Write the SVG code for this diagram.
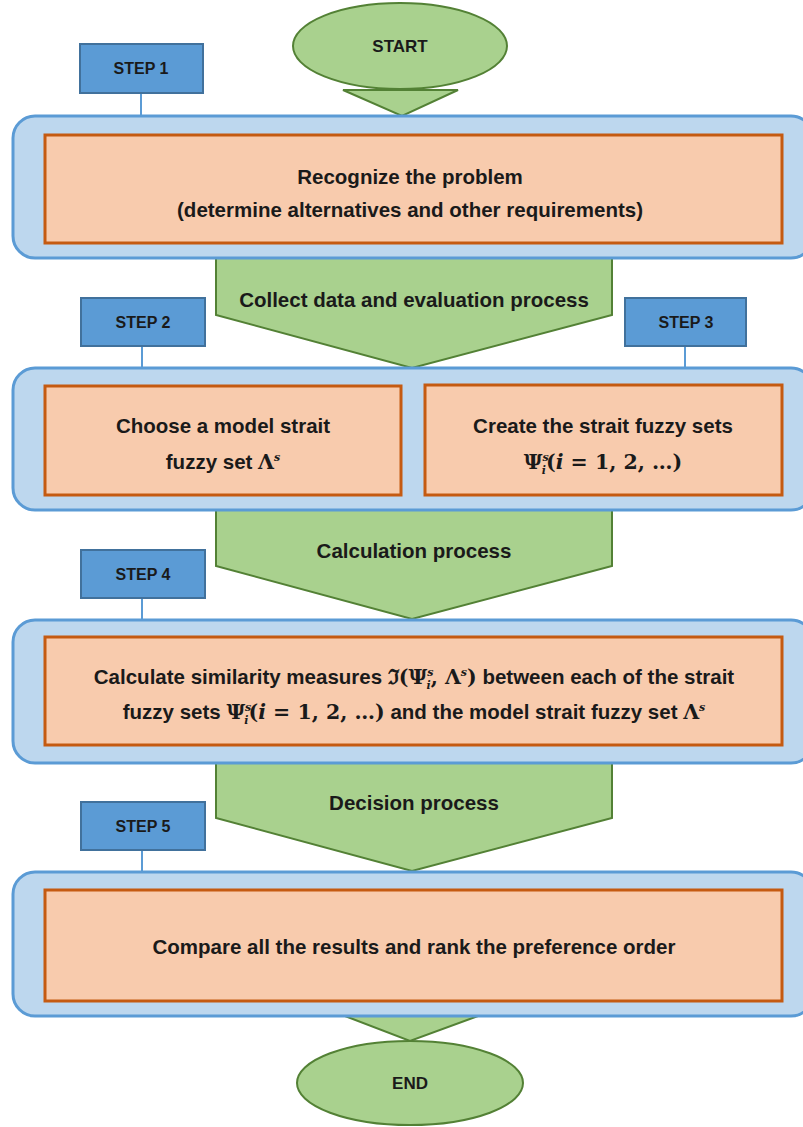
<svg xmlns="http://www.w3.org/2000/svg" width="803" height="1127" viewBox="0 0 803 1127">
<defs>
<style>
.arrow{fill:#A9D18E;stroke:#538135;stroke-width:2}
.term{fill:#A9D18E;stroke:#538135;stroke-width:2}
.step{fill:#5B9BD5;stroke:#41719C;stroke-width:2}
.cont{fill:#BDD7EE;stroke:#5B9BD5;stroke-width:3}
.task{fill:#F8CBAD;stroke:#C55A11;stroke-width:3}
.link{stroke:#5B9BD5;stroke-width:2;fill:none}
text{font-family:"Liberation Sans",Arial,sans-serif;font-weight:bold;fill:#1a1a1a;text-anchor:middle}
.t{font-size:20.5px}
.e{font-size:17px}
.s{font-size:16px}
.m{font-family:"DejaVu Serif","Liberation Serif",serif;font-weight:bold}
.mi{font-family:"DejaVu Serif","Liberation Serif",serif;font-weight:bold;font-style:italic}
.sup{font-size:11px}
</style>
</defs>
<rect width="803" height="1127" fill="#ffffff"/>

<g id="connectors">
<polygon class="arrow" points="343,90 458,90 402,116"/>
<polygon class="arrow" points="216,258 612,258 612,315 412,368 216,315"/>
<polygon class="arrow" points="216,510 612,510 612,566 412,619 216,566"/>
<polygon class="arrow" points="216,763 612,763 612,818 412,871 216,818"/>
<polygon class="arrow" points="345,1016 478,1016 410,1041"/>
<line class="link" x1="141" y1="94" x2="141" y2="116"/>
<line class="link" x1="142" y1="347" x2="142" y2="368"/>
<line class="link" x1="685" y1="347" x2="685" y2="368"/>
<line class="link" x1="142" y1="599" x2="142" y2="620"/>
<line class="link" x1="142" y1="851" x2="142" y2="872"/>
</g>

<g id="start">
<ellipse class="term" cx="400" cy="46" rx="107" ry="43"/>
<text class="e" x="400" y="52">START</text>
</g>

<g id="step1"><rect class="step" x="80" y="44" width="123" height="49"/><text class="s" x="141" y="74">STEP 1</text></g>
<g id="step2"><rect class="step" x="81" y="298" width="124" height="48"/><text class="s" x="143" y="328">STEP 2</text></g>
<g id="step3"><rect class="step" x="625" y="298" width="121" height="48"/><text class="s" x="686" y="328">STEP 3</text></g>
<g id="step4"><rect class="step" x="81" y="550" width="124" height="48"/><text class="s" x="143" y="580">STEP 4</text></g>
<g id="step5"><rect class="step" x="81" y="802" width="124" height="48"/><text class="s" x="143" y="832">STEP 5</text></g>

<g id="container1">
<rect class="cont" x="13" y="116" width="800" height="142" rx="22"/>
<rect class="task" x="45" y="135" width="737" height="108"/>
<text class="t" x="410" y="184">Recognize the problem</text>
<text class="t" x="410" y="217">(determine alternatives and other requirements)</text>
</g>

<g id="container2">
<rect class="cont" x="13" y="368" width="800" height="142" rx="22"/>
<rect class="task" x="45" y="386" width="356" height="109"/>
<text class="t" x="223" y="433">Choose a model strait</text>
<text class="t" x="223" y="469">fuzzy set <tspan class="m">Λ</tspan><tspan class="mi sup" dy="-8">s</tspan></text>
<rect class="task" x="425" y="385" width="357" height="110"/>
<text class="t" x="603" y="433">Create the strait fuzzy sets</text>
<text class="t" x="603" y="469"><tspan class="m">Ψ</tspan><tspan class="mi sup" dy="-8">s</tspan><tspan class="mi sup" dx="-7" dy="13">i</tspan><tspan class="m" dy="-5">(</tspan><tspan class="mi">i</tspan><tspan class="m"> = 1, 2, …)</tspan></text>
</g>

<g id="container3">
<rect class="cont" x="13" y="620" width="800" height="143" rx="22"/>
<rect class="task" x="45" y="637" width="737" height="108"/>
<text class="t" x="414" y="684">Calculate similarity measures <tspan class="m">ℑ(Ψ</tspan><tspan class="mi sup" dy="-8">s</tspan><tspan class="mi sup" dx="-7" dy="13">i</tspan><tspan class="m" dy="-5">, Λ</tspan><tspan class="mi sup" dy="-8">s</tspan><tspan class="m" dy="8">)</tspan> between each of the strait</text>
<text class="t" x="414" y="719">fuzzy sets <tspan class="m">Ψ</tspan><tspan class="mi sup" dy="-8">s</tspan><tspan class="mi sup" dx="-7" dy="13">i</tspan><tspan class="m" dy="-5">(</tspan><tspan class="mi">i</tspan><tspan class="m"> = 1, 2, …)</tspan> and the model strait fuzzy set <tspan class="m">Λ</tspan><tspan class="mi sup" dy="-8">s</tspan></text>
</g>

<g id="container4">
<rect class="cont" x="13" y="872" width="800" height="144" rx="22"/>
<rect class="task" x="45" y="890" width="737" height="111"/>
<text class="t" x="414" y="954">Compare all the results and rank the preference order</text>
</g>

<g id="labels">
<text class="t" x="414" y="307">Collect data and evaluation process</text>
<text class="t" x="414" y="558">Calculation process</text>
<text class="t" x="414" y="810">Decision process</text>
</g>

<g id="end">
<ellipse class="term" cx="410" cy="1083" rx="113" ry="42"/>
<text class="e" x="410" y="1089">END</text>
</g>
</svg>
